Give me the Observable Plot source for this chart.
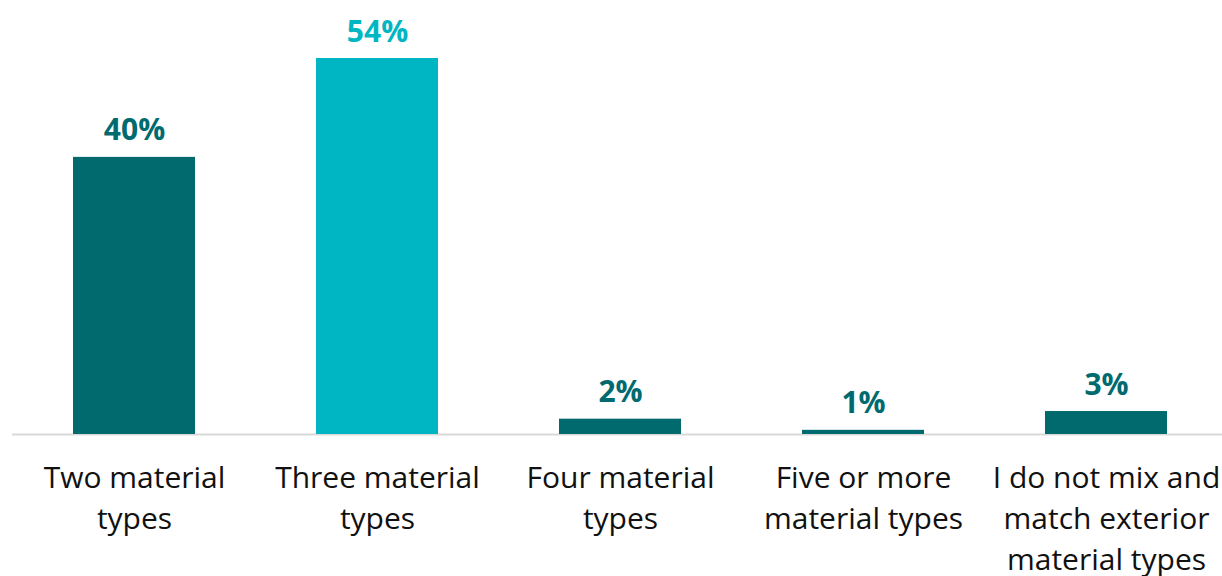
<!DOCTYPE html>
<html>
<head>
<meta charset="utf-8">
<script src="https://cdn.jsdelivr.net/npm/d3@7"></script>
<script src="https://cdn.jsdelivr.net/npm/@observablehq/plot@0.6"></script>
<style>
  html, body { margin: 0; padding: 0; background: #fff; }
  #chart svg { display: block; font-family: "Open Sans", sans-serif; }
</style>
</head>
<body>
<div id="chart"></div>
<script>
const categories = ["Two", "Three", "Four", "Five+", "None"];
const tickLabels = [
  "Two material\ntypes",
  "Three material\ntypes",
  "Four material\ntypes",
  "Five or more\nmaterial types",
  "I do not mix and\nmatch exterior\nmaterial types"
];
const values = [39.8, 54, 2.2, 0.6, 3.3];
const valueLabels = ["40%", "54%", "2%", "1%", "3%"];
const colors = ["#006a6e", "#00b6c2", "#006a6e", "#006a6e", "#006a6e"];

const data = categories.map((c, i) => ({
  cat: c, value: values[i], label: valueLabels[i], color: colors[i], tick: tickLabels[i]
}));

const chart = Plot.plot({
  width: 1222,
  height: 576,
  marginLeft: 12,
  marginRight: 0,
  marginTop: 58,
  marginBottom: 142,
  x: { domain: categories, range: [12, 1227], paddingInner: 0.5, paddingOuter: 0.25, align: 0.5, label: null },
  y: { domain: [0, 54], axis: null },
  marks: [
    Plot.ruleY([0], { stroke: "#d9d9d9", strokeWidth: 2 }),
    Plot.barY(data, { x: "cat", y: "value", fill: "color" }),
    Plot.text(data, {
      x: "cat", y: "value", text: "label", fill: "color",
      lineAnchor: "bottom", dy: -17, fontSize: 30, fontWeight: "bold"
    }),
    Plot.axisX({
      anchor: "bottom",
      label: null,
      tickSize: 0,
      tickPadding: 24,
      fontSize: 30,
      lineHeight: 1.37,
      fill: "#111",
      tickFormat: (d) => tickLabels[categories.indexOf(d)]
    })
  ]
});
document.getElementById("chart").appendChild(chart);
</script>
</body>
</html>
